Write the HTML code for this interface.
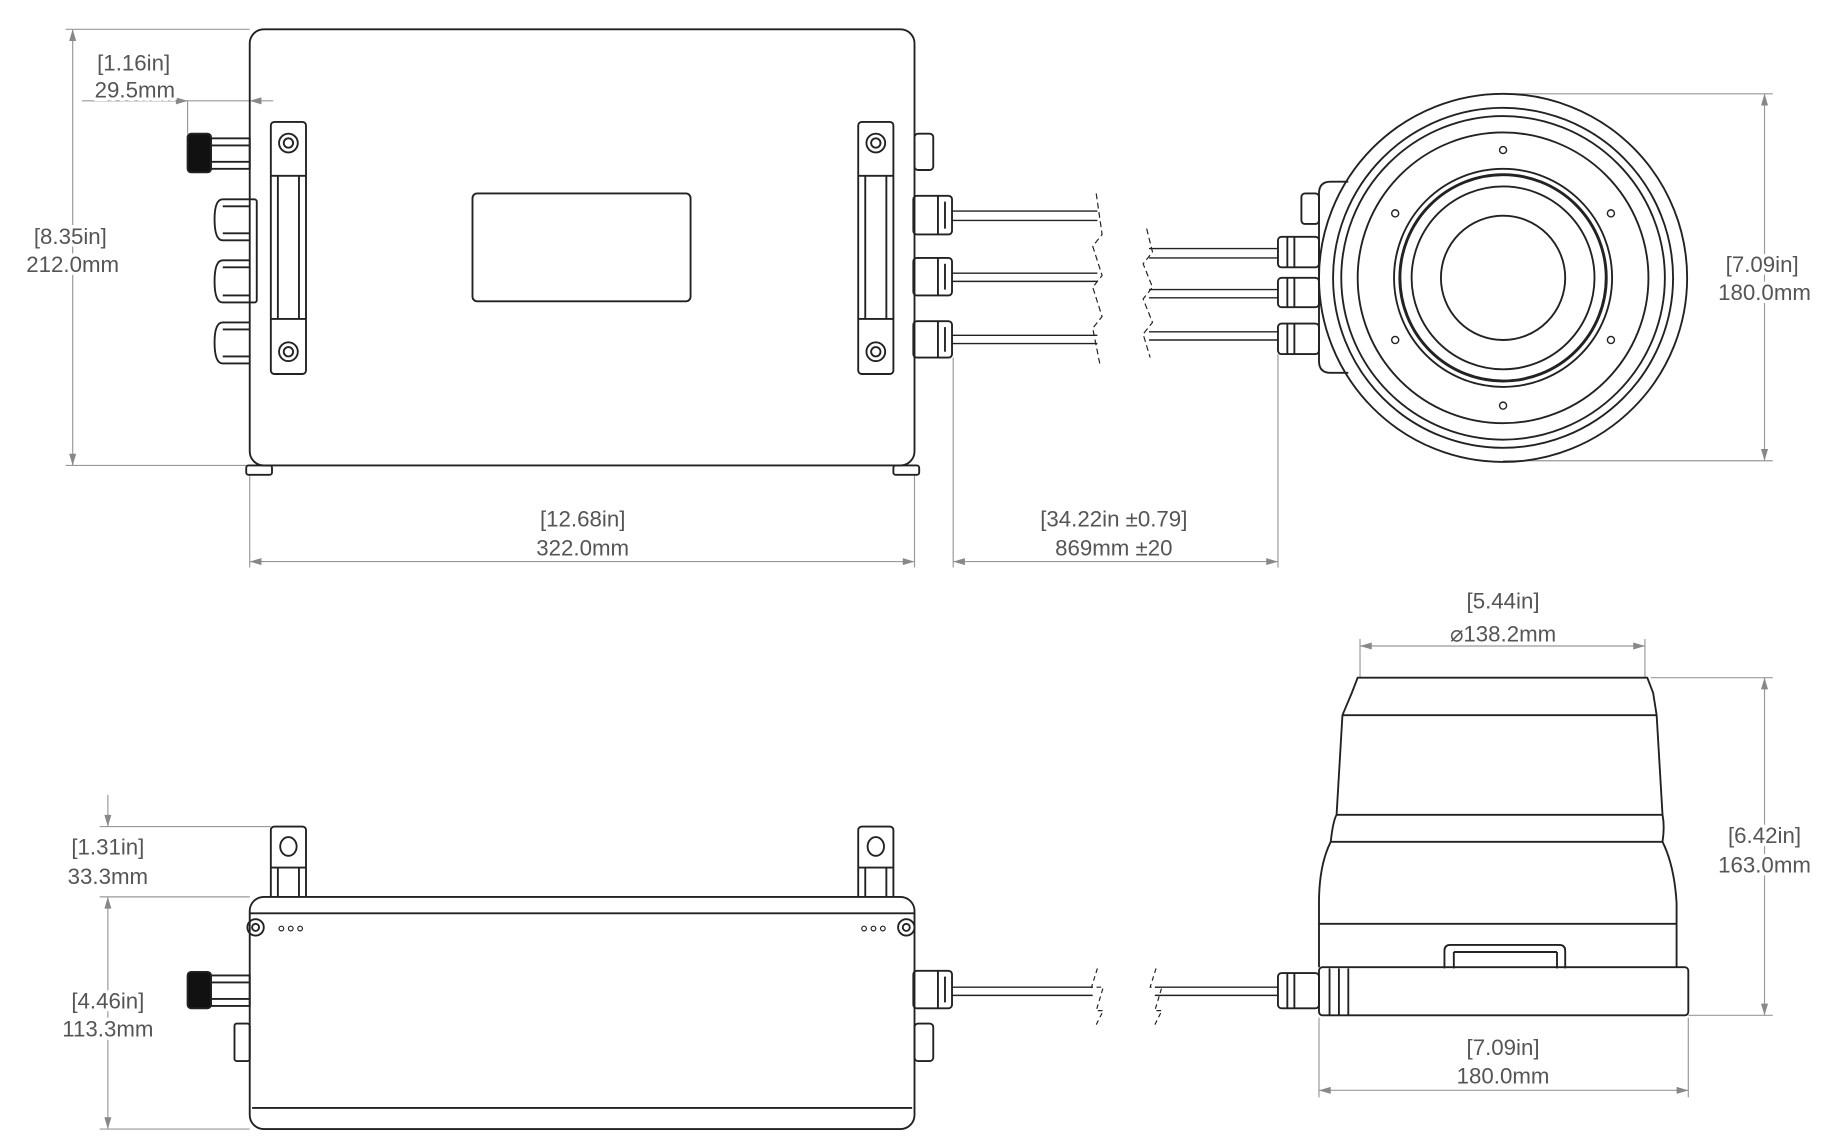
<!DOCTYPE html>
<html><head><style>
html,body{margin:0;padding:0;background:#fff;}
svg{display:block}
text{font-family:"Liberation Sans",sans-serif;font-size:19px;fill:#555;text-anchor:middle;stroke:#fff;stroke-width:6px;paint-order:stroke;stroke-linejoin:round}
</style></head><body>
<svg width="1829" height="1139" viewBox="0 0 1560 971.5" preserveAspectRatio="none" xmlns="http://www.w3.org/2000/svg">
<defs>
<marker id="a" viewBox="0 0 10 6" refX="10" refY="3" markerWidth="14" markerHeight="6" orient="auto-start-reverse" markerUnits="userSpaceOnUse"><path d="M0,0 L10,3 L0,6 z" fill="#888"/></marker>
</defs>
<g fill="none" stroke="#999" stroke-width="1">
<line x1="62" y1="25" x2="62" y2="397" marker-start="url(#a)" marker-end="url(#a)"/>
<line x1="56" y1="25" x2="213" y2="25"/><line x1="56" y1="397" x2="213" y2="397"/>
<line x1="70" y1="86" x2="213" y2="86"/>
<line x1="160" y1="86" x2="160" y2="114"/>
<line x1="140" y1="86" x2="160" y2="86" marker-end="url(#a)"/>
<line x1="233" y1="86" x2="213" y2="86" marker-end="url(#a)"/>
<line x1="213" y1="405" x2="213" y2="484"/><line x1="780" y1="405" x2="780" y2="484"/>
<line x1="213" y1="479" x2="780" y2="479" marker-start="url(#a)" marker-end="url(#a)"/>
<line x1="813" y1="305" x2="813" y2="484"/><line x1="1090" y1="302" x2="1090" y2="484"/>
<line x1="813" y1="479" x2="1090" y2="479" marker-start="url(#a)" marker-end="url(#a)"/>
<line x1="1282" y1="80" x2="1512" y2="80"/><line x1="1282" y1="393" x2="1512" y2="393"/>
<line x1="1505" y1="80" x2="1505" y2="393" marker-start="url(#a)" marker-end="url(#a)"/>
<line x1="85" y1="705" x2="231" y2="705"/><line x1="85" y1="765" x2="213" y2="765"/><line x1="85" y1="963" x2="213" y2="963"/>
<line x1="92" y1="678" x2="92" y2="705" marker-end="url(#a)"/>
<line x1="92" y1="765" x2="92" y2="963" marker-start="url(#a)" marker-end="url(#a)"/>
<line x1="1160" y1="545" x2="1160" y2="578"/><line x1="1403" y1="545" x2="1403" y2="578"/>
<line x1="1160" y1="551" x2="1403" y2="551" marker-start="url(#a)" marker-end="url(#a)"/>
<line x1="1408" y1="578" x2="1512" y2="578"/><line x1="1440" y1="866" x2="1512" y2="866"/>
<line x1="1505" y1="578" x2="1505" y2="866" marker-start="url(#a)" marker-end="url(#a)"/>
<line x1="1125" y1="868" x2="1125" y2="936"/><line x1="1440" y1="868" x2="1440" y2="936"/>
<line x1="1125" y1="930" x2="1440" y2="930" marker-start="url(#a)" marker-end="url(#a)"/>
</g>
<g fill="none" stroke="#222" stroke-width="1.6">
<rect x="213" y="25" width="567" height="372" rx="12"/>
<rect x="210" y="397" width="22" height="8" rx="2"/><rect x="762" y="397" width="22" height="8" rx="2"/>
<rect x="231" y="104" width="30" height="215" rx="3"/><line x1="237" y1="150" x2="237" y2="272"/><line x1="255" y1="150" x2="255" y2="272"/>
<line x1="231" y1="150" x2="261" y2="150"/><line x1="231" y1="272" x2="261" y2="272"/>
<circle cx="246" cy="122" r="8"/><circle cx="246" cy="122" r="4"/><circle cx="246" cy="300" r="8"/><circle cx="246" cy="300" r="4"/>
<rect x="732" y="104" width="30" height="215" rx="3"/><line x1="738" y1="150" x2="738" y2="272"/><line x1="756" y1="150" x2="756" y2="272"/>
<line x1="732" y1="150" x2="762" y2="150"/><line x1="732" y1="272" x2="762" y2="272"/>
<circle cx="747" cy="122" r="8"/><circle cx="747" cy="122" r="4"/><circle cx="747" cy="300" r="8"/><circle cx="747" cy="300" r="4"/>
<rect x="403" y="165" width="186" height="92" rx="4"/>
<rect x="160" y="114" width="20" height="33" rx="3" fill="#111"/>
<rect x="180" y="118" width="33" height="26"/><line x1="180" y1="124" x2="213" y2="124"/><line x1="180" y1="138" x2="213" y2="138"/>
<path d="M213,170 h4 a2,2 0 0 1 2,2 v84 a2,2 0 0 1 -2,2 h-4"/>
<path d="M213,170 h-23 q-7,0 -7,17 q0,18 7,18 h23"/><line x1="190" y1="176" x2="213" y2="176"/><line x1="190" y1="199" x2="213" y2="199"/>
<path d="M213,222 h-23 q-7,0 -7,18 q0,18 7,18 h23"/><line x1="190" y1="228" x2="213" y2="228"/><line x1="190" y1="252" x2="213" y2="252"/>
<path d="M213,275 h-23 q-7,0 -7,17 q0,18 7,18 h23"/><line x1="190" y1="281" x2="213" y2="281"/><line x1="190" y1="304" x2="213" y2="304"/>
<rect x="780" y="114" width="16" height="31" rx="3"/>
<rect x="779" y="167" width="33" height="33" rx="3"/><line x1="800" y1="167" x2="800" y2="200"/><line x1="806" y1="172" x2="806" y2="195"/>
<rect x="779" y="220" width="33" height="32" rx="3"/><line x1="800" y1="220" x2="800" y2="252"/><line x1="806" y1="225" x2="806" y2="247"/>
<rect x="779" y="274" width="33" height="31" rx="3"/><line x1="800" y1="274" x2="800" y2="305"/><line x1="806" y1="279" x2="806" y2="300"/>
<g stroke-width="1.2">
<line x1="812" y1="180" x2="936" y2="180"/><line x1="812" y1="188" x2="936" y2="188"/>
<line x1="812" y1="233" x2="936" y2="233"/><line x1="812" y1="240" x2="936" y2="240"/>
<line x1="812" y1="286" x2="936" y2="286"/><line x1="812" y1="293" x2="936" y2="293"/>
<line x1="980" y1="212" x2="1090" y2="212"/><line x1="980" y1="220" x2="1090" y2="220"/>
<line x1="980" y1="247" x2="1090" y2="247"/><line x1="980" y1="254" x2="1090" y2="254"/>
<line x1="980" y1="283" x2="1090" y2="283"/><line x1="980" y1="290" x2="1090" y2="290"/>
</g>
<g stroke-dasharray="5,3" stroke-width="1">
<path d="M935,165 l5,35 l-8,10 l8,25 l-8,10 l8,25 l-8,10 l6,30"/>
<path d="M978,195 l5,20 l-8,10 l8,20 l-8,10 l8,20 l-8,10 l6,20"/>
</g>
<rect x="1090" y="202" width="35" height="26" rx="3"/><line x1="1098" y1="202" x2="1098" y2="228"/><line x1="1104" y1="202" x2="1104" y2="228"/>
<rect x="1090" y="237" width="35" height="25" rx="3"/><line x1="1098" y1="237" x2="1098" y2="262"/><line x1="1104" y1="237" x2="1104" y2="262"/>
<rect x="1090" y="276" width="35" height="26" rx="3"/><line x1="1098" y1="276" x2="1098" y2="302"/><line x1="1104" y1="276" x2="1104" y2="302"/>
<rect x="1110" y="165" width="15" height="26" rx="3"/>
<path d="M1150,155 h-15 q-10,0 -10,10 v143 q0,10 10,10 h15"/>
<circle cx="1282" cy="237" r="157"/>
<circle cx="1282" cy="237" r="145"/>
<circle cx="1282" cy="237" r="138"/>
<circle cx="1282" cy="237" r="124"/>
<circle cx="1282" cy="237" r="93"/>
<circle cx="1282" cy="237" r="88" stroke-width="2.5"/>
<circle cx="1282" cy="237" r="78"/>
<circle cx="1282" cy="237" r="53"/>
<g stroke-width="1.2"><circle cx="1282" cy="128" r="3"/><circle cx="1282" cy="346" r="3"/><circle cx="1190" cy="182" r="3"/><circle cx="1374" cy="182" r="3"/><circle cx="1190" cy="290" r="3"/><circle cx="1374" cy="290" r="3"/></g>
<rect x="213" y="765" width="567" height="198" rx="12"/>
<line x1="213" y1="779" x2="780" y2="779"/><line x1="215" y1="945" x2="778" y2="945"/>
<path d="M231,765 v-57 a3,3 0 0 1 3,-3 h24 a3,3 0 0 1 3,3 v57"/><line x1="237" y1="740" x2="237" y2="765"/><line x1="255" y1="740" x2="255" y2="765"/><line x1="231" y1="740" x2="261" y2="740"/>
<ellipse cx="246" cy="722" rx="7" ry="8"/>
<path d="M732,765 v-57 a3,3 0 0 1 3,-3 h24 a3,3 0 0 1 3,3 v57"/><line x1="738" y1="740" x2="738" y2="765"/><line x1="756" y1="740" x2="756" y2="765"/><line x1="732" y1="740" x2="762" y2="740"/>
<ellipse cx="747" cy="722" rx="7" ry="8"/>
<circle cx="218" cy="791" r="7"/><circle cx="218" cy="791" r="3"/><circle cx="773" cy="791" r="7"/><circle cx="773" cy="791" r="3"/>
<g stroke-width="1"><circle cx="240" cy="792" r="2"/><circle cx="248" cy="792" r="2"/><circle cx="256" cy="792" r="2"/><circle cx="737" cy="792" r="2"/><circle cx="745" cy="792" r="2"/><circle cx="753" cy="792" r="2"/></g>
<rect x="160" y="829" width="20" height="31" rx="3" fill="#111"/>
<rect x="180" y="832" width="33" height="26"/><line x1="180" y1="838" x2="213" y2="838"/><line x1="180" y1="852" x2="213" y2="852"/>
<rect x="200" y="873" width="13" height="32" rx="2"/>
<rect x="779" y="828" width="33" height="32" rx="3"/><line x1="800" y1="828" x2="800" y2="860"/><line x1="806" y1="833" x2="806" y2="855"/>
<rect x="780" y="873" width="16" height="32" rx="3"/>
<g stroke-width="1.2"><line x1="812" y1="842" x2="932" y2="842"/><line x1="812" y1="849" x2="932" y2="849"/><line x1="985" y1="842" x2="1090" y2="842"/><line x1="985" y1="849" x2="1090" y2="849"/></g>
<g stroke-dasharray="4,3" stroke-width="1"><path d="M936,826 l-5,16 l10,0 l-6,20 l6,0 l-6,12"/><path d="M986,826 l-5,16 l10,0 l-6,20 l6,0 l-6,12"/></g>
<rect x="1090" y="830" width="35" height="30" rx="3"/><line x1="1098" y1="830" x2="1098" y2="860"/><line x1="1104" y1="830" x2="1104" y2="860"/>
<path d="M1125,825 V770 Q1125,738 1135,718 L1418,718 Q1428,738 1430,770 V825"/>
<path d="M1135,718 Q1137,700 1140,695 L1145,610 L1153,591 L1158,578 L1405,578 L1410,591 L1413,610 L1418,695 Q1420,705 1418,718"/>
<line x1="1145" y1="610" x2="1413" y2="610"/>
<line x1="1140" y1="695" x2="1418" y2="695"/>
<line x1="1125" y1="788" x2="1430" y2="788"/>
<rect x="1125" y="825" width="315" height="41" rx="3"/>
<line x1="1134" y1="826" x2="1134" y2="866"/><line x1="1142" y1="826" x2="1142" y2="866"/><line x1="1150" y1="826" x2="1150" y2="866"/>
<path d="M1232,826 v-15 q0,-5 5,-5 h93 q5,0 5,5 v15"/><line x1="1240" y1="812" x2="1328" y2="812"/><line x1="1240" y1="812" x2="1240" y2="826"/><line x1="1328" y1="812" x2="1328" y2="826"/>
</g>
<g>
<text x="114" y="60">[1.16in]</text><text x="115" y="83">29.5mm</text>
<text x="60" y="208">[8.35in]</text><text x="62" y="232">212.0mm</text>
<text x="497" y="449">[12.68in]</text><text x="497" y="474">322.0mm</text>
<text x="950" y="449">[34.22in ±0.79]</text><text x="950" y="474">869mm ±20</text>
<text x="1503" y="232">[7.09in]</text><text x="1505" y="256">180.0mm</text>
<text x="1282" y="519">[5.44in]</text><text x="1282" y="547">⌀138.2mm</text>
<text x="1505" y="719">[6.42in]</text><text x="1505" y="744">163.0mm</text>
<text x="92" y="729">[1.31in]</text><text x="92" y="754">33.3mm</text>
<text x="92" y="860">[4.46in]</text><text x="92" y="884">113.3mm</text>
<text x="1282" y="900">[7.09in]</text><text x="1282" y="924">180.0mm</text>
</g>
</svg>
</body></html>
